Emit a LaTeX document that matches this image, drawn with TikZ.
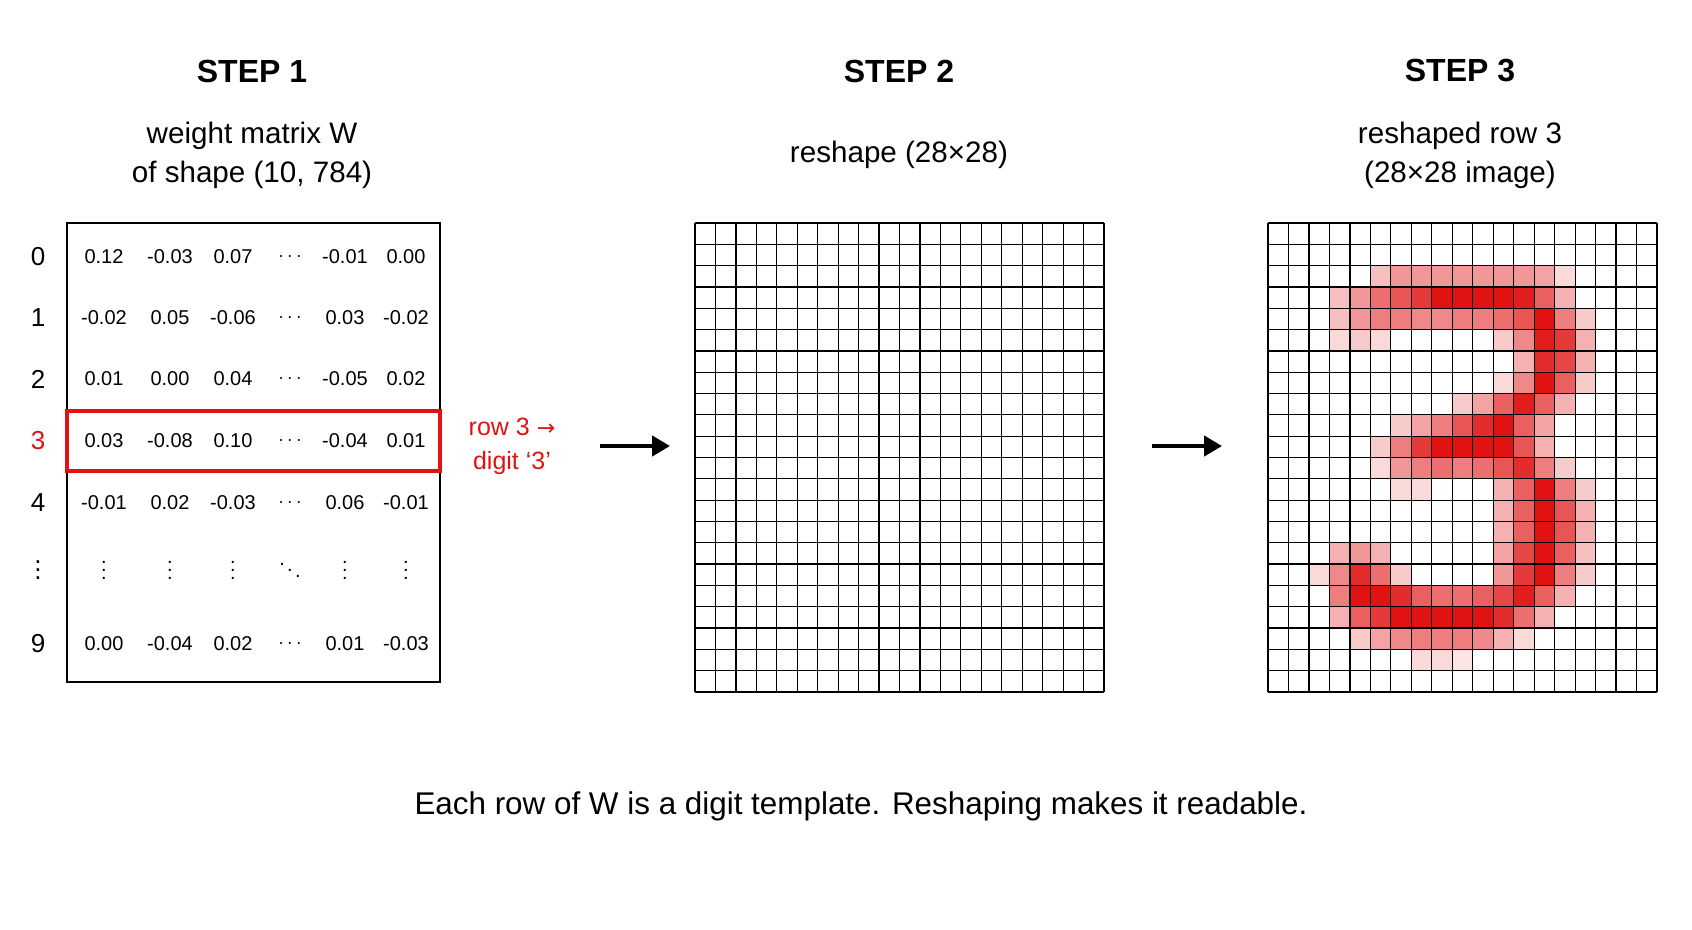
\documentclass[tikz,border=0pt]{standalone}
\usepackage{fontspec}
\setmainfont{Liberation Sans}
\newfontfamily\symf{DejaVu Sans}
\usetikzlibrary{arrows.meta}
\definecolor{dred}{RGB}{224,18,18}
\begin{document}
\begin{tikzpicture}[x=0.5pt,y=-0.5pt,
  head/.style={font=\fontsize{16}{18}\selectfont\bfseries},
  sub/.style={font=\fontsize{14.8}{17.5}\selectfont,align=center},
  num/.style={font=\fontsize{10}{11}\selectfont,inner sep=1pt},
  lab/.style={font=\fontsize{13}{14}\selectfont,inner sep=1pt},
  gridline/.style={line width=0.6pt,black},
  bigarrow/.style={line width=2.2pt,-{Triangle[length=9pt,width=10pt]}}]
\useasboundingbox (0,0) rectangle (1692,930);
\fill[white] (0,0) rectangle (1692,930);
% headings
\node[head] (s1) at (252,71) {STEP 1};
\node[head] (s2) at (899,71) {STEP 2};
\node[head] (s3) at (1460,71) {STEP 3};
\node[sub] (t1) at (252,155) {weight matrix W\\[2pt]of shape (10, 784)};
\node[sub] (t2) at (899,155) {reshape (28×28)};
\node[sub] (t3) at (1460,155) {reshaped row 3\\[2pt](28×28 image)};
% matrix
\draw[line width=1pt] (67,223) rectangle (440,682);
\node[draw=dred,line width=1.6pt,minimum width=186.5pt,minimum height=30pt,inner sep=0pt] (hl) at (253.5,441) {};
\foreach \y/\l in {257/0,318/1,379/2,503/4,644/9}
  \node[lab] (r\l) at (38,\y) {\l};
\node[lab,text=dred] (r3) at (38,441) {3};
\node[lab] (rd) at (38,564) {$\vdots$};
\def\rowvals#1#2{%
  \foreach \x/\v [count=\i] in {#2} \node[num] at (\x,#1) {\v};}
\def\cd{$\cdots$}
\rowvals{257}{104/0.12,170/-0.03,233/0.07,290/\cd,345/-0.01,406/0.00}
\rowvals{318}{104/-0.02,170/0.05,233/-0.06,290/\cd,345/0.03,406/-0.02}
\rowvals{379}{104/0.01,170/0.00,233/0.04,290/\cd,345/-0.05,406/0.02}
\rowvals{441}{104/0.03,170/-0.08,233/0.10,290/\cd,345/-0.04,406/0.01}
\rowvals{503}{104/-0.01,170/0.02,233/-0.03,290/\cd,345/0.06,406/-0.01}
\rowvals{564}{104/$\vdots$,170/$\vdots$,233/$\vdots$,290/$\ddots$,345/$\vdots$,406/$\vdots$}
\rowvals{644}{104/0.00,170/-0.04,233/0.02,290/\cd,345/0.01,406/-0.03}
\node[font=\fontsize{12.5}{17}\selectfont,text=dred,align=center] (note) at (512,446) {row 3 {\symf\fontsize{11}{13}\selectfont →}\\digit ‘3’};
% arrows
\coordinate (a1s) at (600,446); \coordinate (a1e) at (670,446);
\coordinate (a2s) at (1152,446); \coordinate (a2e) at (1222,446);
\draw[bigarrow] (a1s) -- (a1e);
\draw[bigarrow] (a2s) -- (a2e);
% digit heat map
\def\cw{20.474}\def\ch{21.318}
\foreach \r/\c/\v in {
2/5/25,2/6/40,2/7/40,2/8/40,2/9/40,2/10/40,2/11/40,2/12/40,2/13/35,2/14/15,
3/3/25,3/4/40,3/5/55,3/6/65,3/7/75,3/8/90,3/9/95,3/10/95,3/11/95,3/12/85,3/13/60,3/14/30,
4/3/25,4/4/40,4/5/50,4/6/50,4/7/45,4/8/45,4/9/50,4/10/50,4/11/55,4/12/65,4/13/90,4/14/50,4/15/20,
5/3/15,5/4/20,5/5/15,5/11/20,5/12/45,5/13/85,5/14/75,5/15/30,
6/12/30,6/13/80,6/14/70,6/15/30,
7/11/15,7/12/45,7/13/90,7/14/60,7/15/20,
8/9/20,8/10/35,8/11/60,8/12/85,8/13/60,8/14/30,
9/6/20,9/7/35,9/8/50,9/9/65,9/10/80,9/11/90,9/12/60,9/13/35,
10/5/20,10/6/50,10/7/75,10/8/90,10/9/95,10/10/95,10/11/90,10/12/65,10/13/30,
11/5/15,11/6/40,11/7/50,11/8/55,11/9/50,11/10/55,11/11/65,11/12/80,11/13/50,11/14/20,
12/6/15,12/7/15,12/11/30,12/12/60,12/13/90,12/14/50,12/15/20,
13/11/30,13/12/60,13/13/90,13/14/65,13/15/30,
14/11/30,14/12/60,14/13/90,14/14/65,14/15/30,
15/3/30,15/4/40,15/5/30,15/11/35,15/12/70,15/13/90,15/14/60,15/15/25,
16/2/15,16/3/45,16/4/80,16/5/55,16/6/20,16/11/40,16/12/75,16/13/90,16/14/50,16/15/20,
17/3/50,17/4/95,17/5/95,17/6/80,17/7/60,17/8/55,17/9/55,17/10/60,17/11/70,17/12/85,17/13/60,17/14/30,
18/3/30,18/4/60,18/5/75,18/6/90,18/7/95,18/8/95,18/9/95,18/10/90,18/11/80,18/12/55,18/13/30,
19/4/20,19/5/35,19/6/45,19/7/50,19/8/50,19/9/50,19/10/45,19/11/30,19/12/15,
20/7/15,20/8/15,20/9/10}
  {\pgfmathtruncatemacro\vv{min(100,\v*1.12)}
   \fill[dred!\vv!white] ({1268+\c*\cw},{223+\r*\ch}) rectangle ++(\cw,\ch);}
% grids
\foreach \i in {0,...,20} \draw[gridline] ({695+\i*20.45},223) -- ({695+\i*20.45},692);
\foreach \j in {0,...,22} \draw[gridline] (695,{223+\j*\ch}) -- (1104,{223+\j*\ch});
\foreach \i in {0,...,19} \draw[gridline] ({1268+\i*\cw},223) -- ({1268+\i*\cw},692);
\foreach \j in {0,...,22} \draw[gridline] (1268,{223+\j*\ch}) -- (1657,{223+\j*\ch});
\node[font=\fontsize{15.7}{18}\selectfont] (cap) at (861,806) {Each row of W is a digit template. Reshaping makes it readable.};
\end{tikzpicture}
\end{document}
